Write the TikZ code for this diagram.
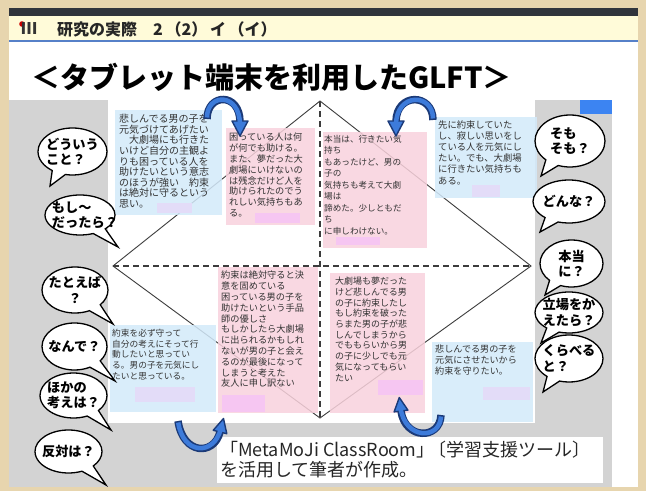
\documentclass[tikz,border=0pt]{standalone}
\usepackage{fontspec}
\setmainfont{Noto Sans CJK JP}
\usetikzlibrary{shapes.callouts}
\definecolor{bgbeige}{HTML}{E7D5AE}
\definecolor{hdrdark}{HTML}{30343C}
\definecolor{hdryellow}{HTML}{FFFBD9}
\definecolor{hdrblue}{HTML}{5680C8}
\definecolor{panelgray}{HTML}{D3D3D3}
\definecolor{noteblue}{HTML}{D3EAFA}
\definecolor{notepink}{HTML}{F9D2DD}
\definecolor{hlpink}{HTML}{F6C6F2}
\definecolor{hlblue}{HTML}{E3DCF8}
\definecolor{notetxt}{HTML}{333333}
\definecolor{arrowblue}{HTML}{3D7BDA}
\definecolor{arrownavy}{HTML}{1B3A78}
\definecolor{linegray}{HTML}{3C3C3C}
\definecolor{tabblue}{HTML}{3C84F2}
\begin{document}
\begin{tikzpicture}[x=1pt,y=-1pt,
  note/.style={anchor=north west, inner sep=0pt, outer sep=0pt, fill opacity=0.85},
  bluenote/.style={note, fill=noteblue},
  pinknote/.style={note, fill=notepink},
  notetext/.style={anchor=north west, inner sep=0pt, align=left, text=notetxt},
  bubble/.style={ellipse callout, draw=black, line width=1.3pt, fill=white, inner sep=0pt, callout pointer arc=24},
  btext/.style={inner sep=0pt, font=\bfseries\fontsize{13.2}{15.5}\selectfont},
  foldline/.style={draw=linegray, line width=1.1pt, dash pattern=on 6pt off 4pt},
  edgeline/.style={draw=linegray, line width=0.9pt},
  arrowout/.style={draw=arrownavy, line width=7.5pt, line cap=butt},
  arrowin/.style={draw=arrowblue, line width=4.5pt, shorten <=1.5pt, shorten >=-3pt},
  arrowhd/.style={fill=arrowblue, draw=arrownavy, line width=1.4pt, line join=round},
]
\useasboundingbox (0,0) rectangle (646,491);
% frame and panels
\fill[bgbeige] (0,0) rectangle (646,491);
\fill[hdrdark] (9,8) rectangle (638,16);
\fill[hdryellow] (9,16) rectangle (638,40);
\fill[hdrblue] (9,40) rectangle (638,42);
\fill[white] (9,42) rectangle (638,100);
\fill[panelgray] (9,100) rectangle (612,487);
\fill[white] (612,100) rectangle (638,487);
\fill[tabblue] (580,100) rectangle (612,114);
% header
\fill[red!80!black] (22,24) circle[radius=2.8pt];
\node[font=\bfseries\fontsize{16}{16}\selectfont, text=black!80] (icon) at (29,29) {Ⅲ};
\node[anchor=base west, inner sep=0pt, font=\bfseries\fontsize{16}{18}\selectfont, text=black!85] (hdr) at (57,35) {研究の実際　2\,（2）\,イ\,（イ）};
\node[anchor=base west, inner sep=0pt, font=\bfseries\fontsize{29}{30}\selectfont] (title) at (31,88) {＜タブレット端末を利用したGLFT＞};
% whiteboard
\fill[white] (108,100) rectangle (535,423);
\coordinate (dT) at (320,101);
\coordinate (dL) at (113,266);
\coordinate (dB) at (320,418);
\coordinate (dR) at (531,266);
\draw[edgeline] (dT) -- (dL) -- (dB) -- (dR) -- cycle;
\draw[foldline] (dL) -- (dR);
\draw[foldline] (dT) -- (dB);
% notes
\node[bluenote, minimum width=107pt, minimum height=105pt] (n1) at (115,110) {};
\node[pinknote, minimum width=89pt, minimum height=97pt] (n2) at (226,128) {};
\node[pinknote, minimum width=104pt, minimum height=116pt] (n3) at (323,132) {};
\node[bluenote, minimum width=102pt, minimum height=81pt] (n4) at (435,117) {};
\node[bluenote, minimum width=106pt, minimum height=87pt] (n5) at (110,325) {};
\node[pinknote, minimum width=100pt, minimum height=146pt] (n6) at (218,267) {};
\node[pinknote, minimum width=95pt, minimum height=140pt] (n7) at (330,273) {};
\node[bluenote, minimum width=101pt, minimum height=80pt] (n8) at (432,342) {};
% highlights
\fill[hlblue] (157,203) rectangle (192,213);
\fill[hlpink] (255,213) rectangle (300,223);
\fill[hlpink] (336,237) rectangle (380,245);
\fill[hlblue] (472,185) rectangle (500,197);
\fill[hlblue] (135,387) rectangle (195,402);
\fill[hlpink] (222,395) rectangle (265,412);
\fill[hlpink] (378,380) rectangle (423,395);
\fill[hlblue] (483,387) rectangle (530,400);
% note texts
\node[notetext, font=\fontsize{10}{10.6}\selectfont] (t1) at (119,114) {悲しんでる男の子を\\元気づけてあげたい\\　大劇場にも行きた\\いけど自分の主観よ\\りも困っている人を\\助けたいという意志\\のほうが強い　約束\\は絶対に守るという\\思い。};
\node[notetext, font=\fontsize{9.2}{10.8}\selectfont] (t2) at (229,133) {困っている人は何\\が何でも助ける。\\また、夢だった大\\劇場にいけないの\\は残念だけど人を\\助けられたのでう\\れしい気持ちもあ\\る。};
\node[notetext, font=\fontsize{8.6}{11.5}\selectfont] (t3) at (324,135) {本当は、行きたい気\\持ち\\もあったけど、男の\\子の\\気持ちも考えて大劇\\場は\\諦めた。少しともだ\\ち\\に申しわけない。};
\node[notetext, font=\fontsize{9.3}{11.2}\selectfont] (t4) at (438,120) {先に約束していた\\し、寂しい思いをし\\ている人を元気にし\\たい。でも、大劇場\\に行きたい気持ちも\\ある。};
\node[notetext, font=\fontsize{8.7}{10.7}\selectfont] (t5) at (112,329) {約束を必ず守って\\自分の考えにそって行\\動したいと思ってい\\る。男の子を元気にし\\たいと思っている。};
\node[notetext, font=\fontsize{9.2}{10.8}\selectfont] (t6) at (221,271) {約束は絶対守ると決\\意を固めている\\困っている男の子を\\助けたいという手品\\師の優しさ\\もしかしたら大劇場\\に出られるかもしれ\\ないが男の子と会え\\るのが最後になって\\しまうと考えた\\友人に申し訳ない};
\node[notetext, font=\fontsize{9}{10.7}\selectfont] (t7) at (335,277) {大劇場も夢だった\\けど悲しんでる男\\の子に約束したし\\もし約束を破った\\らまた男の子が悲\\しんでしまうから\\でももらいから男\\の子に少しでも元\\気になってもらい\\たい};
\node[notetext, font=\fontsize{9.1}{11}\selectfont] (t8) at (435,345) {悲しんでる男の子を\\元気にさせたいから\\約束を守りたい。};
% caption
\node[fill=white, anchor=north west, inner sep=0pt, minimum width=386pt, minimum height=46pt] (capbox) at (217,437) {};
\node[anchor=north west, inner sep=0pt, align=left, font=\fontsize{18}{19.5}\selectfont, text=black!85] (cap) at (220,441) {「MetaMoJi ClassRoom」\kern-6pt〔学習支援ツール〕\\を活用して筆者が作成。};
% curved arrows
\draw[arrowout] (207,119) .. controls (207,93) and (240,92) .. (240,122);
\draw[arrowhd] (232,121) -- (248,121) -- (240,136) -- cycle;
\draw[arrowin] (207,119) .. controls (207,93) and (240,92) .. (240,122);
\draw[arrowout] (433,120) .. controls (433,93) and (396,92) .. (396,122);
\draw[arrowhd] (388,121) -- (404,121) -- (396,136) -- cycle;
\draw[arrowin] (433,120) .. controls (433,93) and (396,92) .. (396,122);
\draw[arrowout] (178,421) .. controls (183,455) and (214,456) .. (220,432);
\draw[arrowhd] (226.8,433.7) -- (213.2,430.3) -- (223.5,418.5) -- cycle;
\draw[arrowin] (178,421) .. controls (183,455) and (214,456) .. (220,432);
\draw[arrowout] (441,415) .. controls (440,440) and (405,440) .. (401,411);
\draw[arrowhd] (407.9,410.1) -- (394.1,411.9) -- (399.3,397.5) -- cycle;
\draw[arrowin] (441,415) .. controls (440,440) and (405,440) .. (401,411);
% left bubbles
\node[bubble, minimum width=69pt, minimum height=47pt, callout absolute pointer={(50,186)}] (b1) at (72.5,151.5) {};
\node[btext, align=left] (b1t) at (b1.center) {どういう\\こと？};
\node[bubble, minimum width=70pt, minimum height=40pt, callout absolute pointer={(118,247)}] (b2) at (80,215) {};
\node[btext, align=left] (b2t) at (85,215) {もし～\\だったら？};
\node[bubble, minimum width=66pt, minimum height=46pt, callout absolute pointer={(113,324)}] (b3) at (75,290) {};
\node[btext, align=center] (b3t) at (b3.center) {たとえば\\？};
\node[bubble, minimum width=65pt, minimum height=47pt, callout absolute pointer={(115,381)}] (b4) at (74.5,346.5) {};
\node[btext, align=left] (b4t) at (b4.center) {なんで？};
\node[bubble, minimum width=67pt, minimum height=45pt, callout absolute pointer={(111,430)}] (b5) at (73.5,395.5) {};
\node[btext, align=left] (b5t) at (b5.center) {ほかの\\考えは？};
\node[bubble, minimum width=67pt, minimum height=43pt, callout absolute pointer={(106,485)}] (b6) at (68.5,451.5) {};
\node[btext, align=left] (b6t) at (b6.center) {反対は？};
% right bubbles
\node[bubble, minimum width=70pt, minimum height=52pt, callout absolute pointer={(541,176)}] (r1) at (570,141) {};
\node[btext, align=left] (r1t) at (r1.center) {そも\\そも？};
\node[bubble, minimum width=72pt, minimum height=43pt, callout absolute pointer={(540,232)}] (r2) at (569,201.5) {};
\node[btext, align=left] (r2t) at (r2.center) {どんな？};
\node[bubble, minimum width=63pt, minimum height=47pt, callout absolute pointer={(545,295)}] (r3) at (571.5,263.5) {};
\node[btext, align=left] (r3t) at (r3.center) {本当\\に？};
\node[bubble, minimum width=68pt, minimum height=41pt, callout absolute pointer={(541,343)}] (r4) at (569,312.5) {};
\node[btext, align=left] (r4t) at (r4.center) {立場をか\\えたら？};
\node[bubble, minimum width=68pt, minimum height=47pt, callout absolute pointer={(543,392)}] (r5) at (569,358.5) {};
\node[btext, align=left] (r5t) at (r5.center) {くらべる\\と？};
\end{tikzpicture}
\end{document}
